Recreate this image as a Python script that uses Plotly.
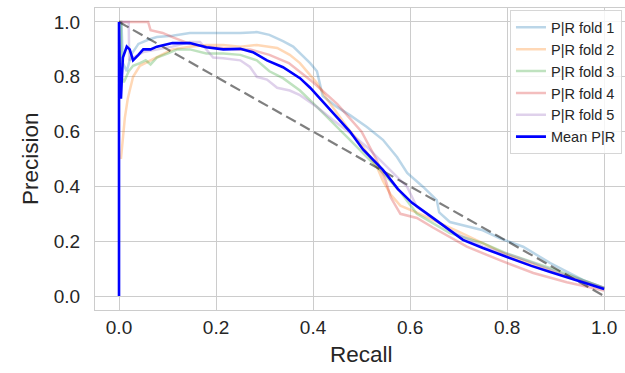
import plotly.graph_objects as go

# ---- data ----
fold1_r = [0, 0.005, 0.008, 0.016, 0.025, 0.04, 0.06, 0.078, 0.11, 0.146, 0.18, 0.215, 0.25, 0.284, 0.31, 0.338, 0.359,
           0.394, 0.408, 0.42, 0.449, 0.476, 0.511, 0.544, 0.573, 0.594, 0.627, 0.655, 0.66, 0.682, 0.75, 0.786, 0.833,
           0.889, 0.957, 1.0]
fold1_p = [1.0, 1.0, 0.85, 0.82, 0.88, 0.92, 0.935, 0.945, 0.95, 0.96, 0.96, 0.96, 0.96, 0.963, 0.953, 0.93, 0.91,
           0.85, 0.82, 0.73, 0.69, 0.66, 0.617, 0.57, 0.507, 0.449, 0.398, 0.35, 0.305, 0.27, 0.24, 0.21, 0.18,
           0.12, 0.058, 0.03]

fold2_r = [0.004, 0.008, 0.012, 0.018, 0.029, 0.043, 0.078, 0.11, 0.146, 0.18, 0.215, 0.25, 0.284, 0.326, 0.352,
           0.373, 0.408, 0.43, 0.47, 0.503, 0.532, 0.544, 0.56, 0.58, 0.62, 0.7, 0.8, 0.9, 1.0]
fold2_p = [0.5, 0.57, 0.65, 0.72, 0.8, 0.84, 0.87, 0.9, 0.91, 0.916, 0.916, 0.91, 0.916, 0.905, 0.88,
           0.85, 0.777, 0.715, 0.617, 0.544, 0.47, 0.42, 0.37, 0.33, 0.3, 0.235, 0.15, 0.085, 0.028]

fold3_r = [0, 0.004, 0.005, 0.01, 0.02, 0.029, 0.043, 0.055, 0.065, 0.078, 0.1, 0.12, 0.146, 0.18, 0.215, 0.25,
           0.284, 0.31, 0.338, 0.373, 0.408, 0.441, 0.476, 0.511, 0.544, 0.58, 0.614, 0.682, 0.75, 0.8, 0.9, 1.0]
fold3_p = [1.0, 1.0, 0.8, 0.78, 0.82, 0.84, 0.85, 0.86, 0.845, 0.87, 0.885, 0.9, 0.9, 0.885, 0.885, 0.88,
           0.86, 0.82, 0.795, 0.75, 0.69, 0.63, 0.57, 0.507, 0.449, 0.38, 0.3, 0.23, 0.193, 0.155, 0.095, 0.03]

fold4_r = [0, 0.06, 0.065, 0.09, 0.11, 0.146, 0.18, 0.215, 0.25, 0.27, 0.31, 0.35, 0.4, 0.45, 0.5, 0.53, 0.55,
           0.56, 0.58, 0.614, 0.647, 0.717, 0.786, 0.854, 0.923, 1.0]
fold4_p = [1.0, 1.0, 0.97, 0.96, 0.945, 0.92, 0.91, 0.905, 0.9, 0.9, 0.88, 0.85, 0.78, 0.7, 0.6, 0.5, 0.42,
           0.36, 0.3, 0.285, 0.25, 0.18, 0.13, 0.084, 0.05, 0.02]

fold5_r = [0, 0.02, 0.021, 0.029, 0.05, 0.078, 0.11, 0.146, 0.167, 0.194, 0.215, 0.25, 0.27, 0.284, 0.305, 0.326,
           0.352, 0.373, 0.408, 0.441, 0.476, 0.511, 0.559, 0.594, 0.614, 0.682, 0.75, 0.82, 0.9, 1.0]
fold5_p = [1.0, 1.0, 0.86, 0.87, 0.89, 0.9, 0.91, 0.927, 0.927, 0.87, 0.868, 0.86, 0.836, 0.8, 0.79, 0.76,
           0.75, 0.733, 0.69, 0.642, 0.595, 0.544, 0.46, 0.398, 0.325, 0.24, 0.18, 0.142, 0.09, 0.03]

mean_r = [0, 0, 0.002, 0.004, 0.006, 0.008, 0.016, 0.022, 0.029, 0.035, 0.04, 0.05, 0.065, 0.078, 0.11, 0.146,
          0.18, 0.215, 0.25, 0.276, 0.305, 0.338, 0.373, 0.394, 0.435, 0.476, 0.503, 0.544, 0.575, 0.604, 0.647,
          0.709, 0.75, 0.8, 0.85, 0.889, 0.95, 1.0]
mean_p = [0, 1.0, 0.78, 0.72, 0.8, 0.87, 0.91, 0.9, 0.86, 0.87, 0.88, 0.9, 0.9, 0.91, 0.923, 0.923,
          0.908, 0.9, 0.902, 0.89, 0.86, 0.835, 0.795, 0.76, 0.68, 0.6, 0.535, 0.46, 0.39, 0.34, 0.285,
          0.205, 0.175, 0.142, 0.11, 0.088, 0.055, 0.026]

diag_r = [0, 1]
diag_p = [1, 0]

tick_vals = [0, 0.2, 0.4, 0.6, 0.8, 1.0]
tick_text = ["0.0", "0.2", "0.4", "0.6", "0.8", "1.0"]

fold_names = ["P|R fold 1", "P|R fold 2", "P|R fold 3", "P|R fold 4", "P|R fold 5"]
fold_colors = ["rgba(31,119,180,0.3)", "rgba(255,127,14,0.3)", "rgba(44,160,44,0.3)",
               "rgba(214,39,40,0.3)", "rgba(148,103,189,0.3)"]
folds = [(fold1_r, fold1_p), (fold2_r, fold2_p), (fold3_r, fold3_p), (fold4_r, fold4_p), (fold5_r, fold5_p)]

fig = go.Figure()
for i, ((r, p), name, col) in enumerate(zip(folds, fold_names, fold_colors)):
    fig.add_trace(go.Scatter(x=r, y=p, mode="lines", name=name, legendgroup=f"g{i}",
                             line=dict(color=col, width=2.5)))
fig.add_trace(go.Scatter(x=diag_r, y=diag_p, mode="lines", showlegend=False,
                         line=dict(color="rgba(0,0,0,0.5)", width=2.2, dash="11px,5px")))
fig.add_trace(go.Scatter(x=mean_r, y=mean_p, mode="lines", name="Mean P|R", legendgroup="gm",
                         line=dict(color="#0000ff", width=2.6)))

font_fam = "Arial, Liberation Sans, sans-serif"
txt = "#262626"
fig.update_layout(
    width=625, height=373,
    margin=dict(l=95, r=0, t=8, b=63, autoexpand=False),
    paper_bgcolor="white", plot_bgcolor="white",
    font=dict(family=font_fam, color=txt),
    showlegend=True,
    legend=dict(x=0.9943, xanchor="right", y=0.992, yanchor="top",
                bgcolor="rgba(255,255,255,0.8)", bordercolor="#d6d6d6", borderwidth=1,
                tracegroupgap=0,
                font=dict(size=14.5, color=txt)),
    annotations=[
        dict(text="Recall", xref="paper", yref="paper", x=0.502, y=-0.149,
             xanchor="center", yanchor="middle", showarrow=False,
             font=dict(size=22.5, color=txt)),
        dict(text="Precision", xref="paper", yref="paper", x=-0.1226, y=0.5,
             xanchor="center", yanchor="middle", showarrow=False, textangle=-90,
             font=dict(size=22.5, color=txt)),
    ],
)
fig.update_xaxes(range=[-0.0495, 1.043], tickvals=tick_vals, ticktext=tick_text, automargin=False,
                 showgrid=True, gridcolor="#cccccc", gridwidth=1, zeroline=False,
                 showline=True, linecolor="#cccccc", linewidth=1.2, mirror=True,
                 ticks="", ticklen=0,
                 tickfont=dict(size=19, color=txt))
fig.update_yaxes(range=[-0.051, 1.051], tickvals=tick_vals, ticktext=tick_text, automargin=False,
                 showgrid=True, gridcolor="#cccccc", gridwidth=1, zeroline=False,
                 showline=True, linecolor="#cccccc", linewidth=1.2, mirror=False,
                 ticks="outside", ticklen=10, tickcolor="rgba(0,0,0,0)",
                 tickfont=dict(size=19, color=txt))

fig.write_html("out.html", config={"displayModeBar": False},
               post_script="document.body.style.margin='0px';document.body.style.overflow='hidden';")
